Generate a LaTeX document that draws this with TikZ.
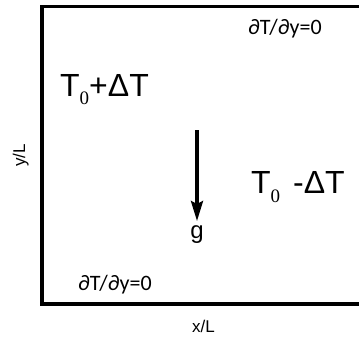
\documentclass[tikz,border=0pt]{standalone}
\usepackage{fontspec}
\setmainfont{Liberation Sans}
\newfontfamily\subserif{Liberation Serif}
\newfontfamily\bcfont{Carlito}
\usetikzlibrary{arrows.meta}
\tikzset{
  wall/.style={line width=3.3pt, line cap=rect},
  bigtext/.style={anchor=base west, inner sep=0pt, font=\fontsize{32}{32}\selectfont},
  bctext/.style={anchor=base west, inner sep=0pt, font=\bcfont\fontsize{22}{22}\selectfont},
  axistext/.style={inner sep=0pt, font=\fontsize{17}{17}\selectfont},
  gravity/.style={line width=3.2pt, -{Stealth[length=20pt,width=12pt,inset=3pt]}}
}
\newcommand{\subz}[1]{\raisebox{-#1pt}{\subserif\fontsize{19}{19}\selectfont 0}}
\begin{document}
\begin{tikzpicture}[x=1pt,y=1pt]
\useasboundingbox (0,0) rectangle (359,341);
% walls
\coordinate (tr) at (370,334.7);
\coordinate (tl) at (42,334.7);
\coordinate (bl) at (42,37);
\coordinate (br) at (370,37);
\draw[wall] (tr) -- (tl) -- (bl) -- (br);
% temperatures
\node[bigtext] (hot) at (60,245) {T\subz{8}+ΔT};
\node[bigtext] (cold) at (251,148) {T\subz{9}\hspace{4pt} -ΔT};
% boundary conditions
\node[bctext] (bctop) at (248,306) {∂T/∂y=0};
\node[bctext] (bcbot) at (78,51) {∂T/∂y=0};
% axis labels
\node[axistext, anchor=base west] (xl) at (192,9) {x/L};
\node[axistext, anchor=base, rotate=90] (yl) at (25,185.5) {y/L};
% gravity
\node[inner sep=0pt, anchor=base, font=\fontsize{24}{24}\selectfont] (g) at (197,103) {g};
\coordinate (gs) at (197,211);
\coordinate (ge) at (197,120);
\draw[gravity] (gs) -- (ge);
\end{tikzpicture}
\end{document}
